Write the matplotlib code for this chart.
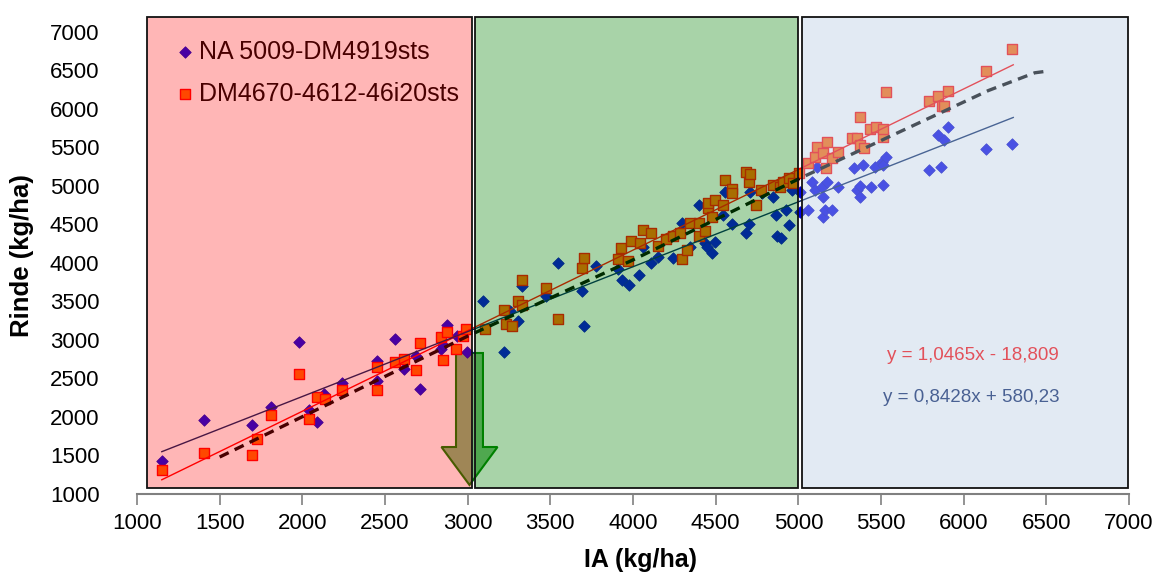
import matplotlib
matplotlib.use("Agg")
import matplotlib.pyplot as plt
from matplotlib.patches import Rectangle, FancyArrow
import numpy as np

plt.rcParams["font.family"] = ["Liberation Sans", "DejaVu Sans"]

# NA 5009-DM4919sts (diamonds)
na_x = [1153, 1407, 1698, 1811, 1980, 2043, 2087, 2133, 2242, 2450, 2450, 2563, 2617,
        2690, 2712, 2839, 2850, 2875, 2934, 2994,
        3095, 3222, 3256, 3307, 3327, 3472, 3545, 3694, 3702, 3775, 3912, 3936, 3976,
        4037, 4063, 4110, 4154, 4244, 4295, 4345, 4400, 4436, 4446, 4477, 4497, 4547,
        4557, 4601, 4684, 4702, 4708, 4779, 4849, 4864, 4870, 4894, 4924, 4944, 4961,
        5011, 5011,
        5061, 5082, 5102, 5112, 5142, 5152, 5152, 5162, 5172, 5206, 5239, 5334, 5354,
        5374, 5374, 5394, 5438, 5465, 5505, 5511, 5515, 5531, 5791, 5842, 5864, 5882,
        5908, 6136, 6292]
na_y = [1429, 1957, 1900, 2134, 2970, 2091, 1931, 2299, 2446, 2727, 2468, 3013, 2623,
        2792, 2368, 2883, 2940, 3195, 3052, 2848,
        3506, 2840, 3377, 3247, 3701, 3571, 4000, 3632, 3182, 3957, 3922, 3783, 3718,
        3848, 4212, 3996, 4082, 4065, 4523, 4212, 4753, 4256, 4212, 4126, 4277, 4623,
        4926, 4506, 4385, 4502, 4926, 4905, 4862, 4623, 4351, 4321, 4686, 4494, 4948,
        4926, 4667,
        4688, 5056, 4948, 5251, 4991, 4862, 4602, 4688, 5056, 4688, 4991, 5229, 4948,
        4862, 5000, 5273, 4991, 5251, 5316, 5013, 5273, 5381, 5208, 5658, 5251, 5597,
        5762, 5484, 5549]

# DM4670-4612-46i20sts (squares)
dm_x = [1153, 1407, 1698, 1728, 1812, 1980, 2043, 2087, 2137, 2242, 2450, 2450, 2563,
        2617, 2690, 2712, 2839, 2849, 2877, 2930, 2970, 2990,
        3105, 3222, 3232, 3267, 3307, 3327, 3327, 3472, 3545, 3694, 3702, 3912, 3930,
        3972, 3985, 4043, 4063, 4110, 4152, 4198, 4244, 4285, 4295, 4325, 4345, 4402,
        4402, 4436, 4452, 4456, 4477, 4497, 4547, 4559, 4598, 4601, 4684, 4704, 4708,
        4745, 4775, 4849, 4890, 4910, 4946, 4970, 5007,
        5061, 5102, 5112, 5152, 5166, 5172, 5202, 5239, 5324, 5354, 5374, 5374, 5398,
        5434, 5467, 5511, 5511, 5529, 5793, 5844, 5868, 5880, 5908, 6136, 6292]
dm_y = [1312, 1532, 1506, 1718, 2026, 2558, 1978, 2260, 2238, 2351, 2653, 2351, 2710,
        2757, 2606, 2965, 3035, 2740, 3104, 2887, 3052, 3143,
        3139, 3390, 3208, 3182, 3506, 3455, 3779, 3679, 3268, 3935, 4061, 4048, 4191,
        4026, 4286, 4256, 4429, 4385, 4216, 4307, 4351, 4385, 4048, 4169, 4515, 4515,
        4351, 4416, 4710, 4775, 4602, 4818, 4753, 5078, 4957, 4905, 5186, 5056, 5156,
        4753, 4948, 5013, 4991, 5056, 5100, 5035, 5165,
        5295, 5381, 5502, 5424, 5229, 5576, 5359, 5446, 5619, 5619, 5892, 5532, 5489,
        5740, 5762, 5632, 5744, 6217, 6108, 6173, 6043, 6043, 6238, 6497, 6775]

# trendlines (from the printed equations)
fit_range = [1150, 6300]
dm_coef = (1.0465, -18.809)
na_coef = (0.8428, 580.23)

# dashed reference curve
ref_x = [1500, 3000, 4000, 5000, 5550, 6150, 6430, 6500]
ref_y = [1480, 3050, 4040, 5090, 5640, 6240, 6470, 6490]

# zones: (x0, x1, rgba)
zones = [(1060, 3024, (1.0, 0.0, 0.0, 0.286)),
         (3042, 4999, (0.0, 0.5, 0.0, 0.34)),
         (5023, 6995, (0.72, 0.80, 0.89, 0.40))]

fig = plt.figure(figsize=(11.62, 5.76), dpi=100)
ax = fig.add_axes([0.1179, 0.1424, 0.8537, 0.8288])

ax.scatter(na_x, na_y, marker="D", s=34, color="#0000E6", edgecolor="#0000C8",
           linewidth=0.6, zorder=3, label="NA 5009-DM4919sts")
ax.scatter(dm_x, dm_y, marker="s", s=60, color="#FF6600", edgecolor="#FF0000",
           linewidth=1.0, zorder=3, label="DM4670-4612-46i20sts")

xs = np.array(fit_range)
ax.plot(xs, dm_coef[0] * xs + dm_coef[1], color="#FF0000", lw=1.0, zorder=4)
ax.plot(xs, na_coef[0] * xs + na_coef[1], color="#002060", lw=1.0, zorder=4)
ax.plot(ref_x, ref_y, color="black", lw=2.4, ls=(0, (3, 2)), zorder=4)

ax.add_patch(FancyArrow(3011, 2831, 0, -1714, width=163, head_width=339,
                        head_length=493, length_includes_head=True,
                        facecolor="#79BD79", edgecolor="#008000", lw=1.5, zorder=2))

ax.text(6578, 2792, "y = 1,0465x - 18,809", color="#FF0000", fontsize=13.5,
        ha="right", va="center", zorder=5)
ax.text(6578, 2247, "y = 0,8428x + 580,23", color="#001A5E", fontsize=13.5,
        ha="right", va="center", zorder=5)

leg = ax.legend(loc="upper left", bbox_to_anchor=(0.026, 0.972), frameon=False,
                fontsize=18, handletextpad=0.05, labelspacing=0.72,
                handlelength=1.0, borderaxespad=0)
leg.set_zorder(5)

for x0, x1, rgba in zones:
    ax.add_patch(Rectangle((x0, 1078), x1 - x0, 7195 - 1078, facecolor=rgba,
                           edgecolor="#111111", lw=1.3, zorder=10, clip_on=False))

ax.set_xlim(1000, 7000)
ax.set_ylim(1000, 7200)
ax.set_xticks(np.arange(1000, 7001, 500))
ax.set_yticks(np.arange(1000, 7001, 500))
for s in ["top", "right", "left"]:
    ax.spines[s].set_visible(False)
ax.spines["bottom"].set_color("#808080")
ax.spines["bottom"].set_linewidth(1.5)
ax.tick_params(axis="x", direction="out", length=8, width=1.2, color="#808080",
               labelsize=16, pad=6)
ax.tick_params(axis="y", length=0, labelsize=16, pad=27)

ax.set_xlabel("IA (kg/ha)", fontsize=18, fontweight="bold")
ax.set_ylabel("Rinde (kg/ha)", fontsize=18.5, fontweight="bold")
ax.xaxis.set_label_coords(0.508, -0.138)
ax.xaxis.label.set_va("center")
ax.yaxis.set_label_coords(-0.116, 0.5)
ax.yaxis.label.set_va("center")

fig.savefig("out.png", dpi=100)
